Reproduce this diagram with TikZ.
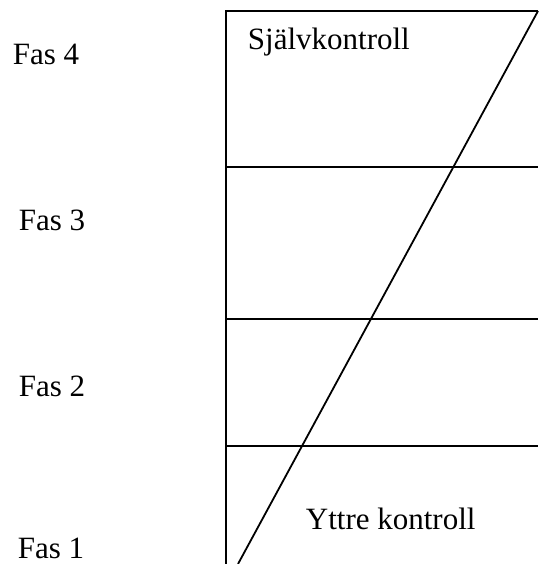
\documentclass[tikz,border=0pt]{standalone}
\usepackage{fontspec}
\setmainfont{Liberation Serif}
\usetikzlibrary{positioning}

\begin{document}
\begin{tikzpicture}[x=1pt, y=-1pt, line width=1.8pt,
  lbl/.style={font=\fontsize{31}{36}\selectfont, anchor=base west, inner sep=0pt}]
  \useasboundingbox (0,0) rectangle (544,564);

  % Frame
  \draw (226,564) -- (226,11) -- (538,11);

  % Phase borders
  \foreach \y in {167,319,446}
    \draw (226,\y) -- (538,\y);

  % Diagonal (outer -> self control)
  \draw (238,564) -- (538,11);

  % Phase labels
  \node[lbl] (fas4) at (12,65) {Fas 4};
  \node[lbl] (fas3) at (18,230) {Fas 3};
  \node[lbl] (fas2) at (18,396) {Fas 2};
  \node[lbl] (fas1) at (17,558) {Fas 1};

  % Region labels
  \node[lbl] (själv) at (247,50) {Självkontroll};
  \node[lbl] (yttre) at (305,529) {Yttre kontroll};
\end{tikzpicture}
\end{document}
